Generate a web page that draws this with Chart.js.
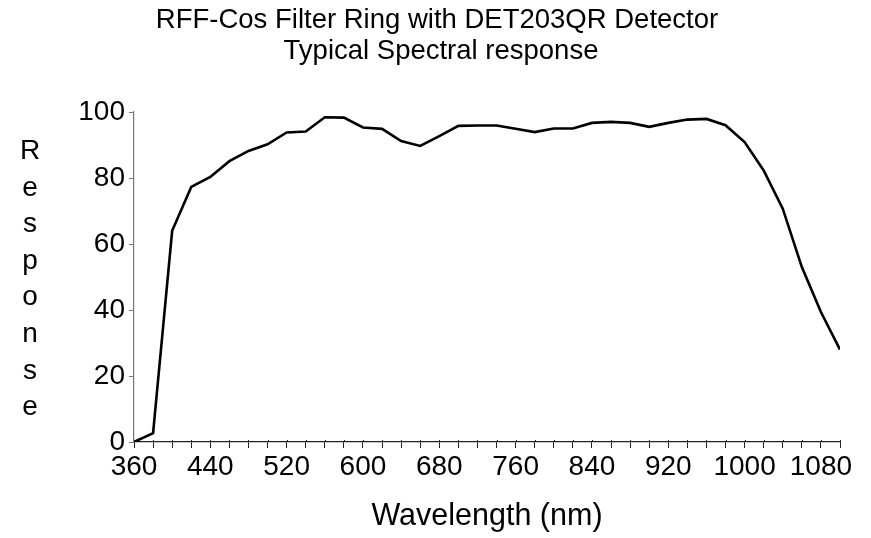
<!DOCTYPE html>
<html><head><meta charset="utf-8">
<script src="https://cdn.jsdelivr.net/npm/chart.js@4.4.1/dist/chart.umd.min.js"></script>
<style>html,body{margin:0;padding:0;background:#fff}#wrap{width:871px;height:538px}</style>
</head><body><div id="wrap"><canvas id="c" width="871" height="538"></canvas></div>
<script>
const titleLines = ["RFF-Cos Filter Ring with DET203QR Detector", "Typical Spectral response"];
const xAxisTitle = "Wavelength (nm)";
const yAxisTitle = "Response";
const wavelengths = [360,380,400,420,440,460,480,500,520,540,560,580,600,620,640,660,680,700,720,740,760,780,800,820,840,860,880,900,920,940,960,980,1000,1020,1040,1060,1080,1100];
const response = [0,2.7,64,77.3,80.3,85.1,88.2,90.2,93.8,94.1,98.4,98.3,95.3,94.9,91.2,89.7,92.7,95.8,95.9,95.9,94.9,93.9,95.0,95.0,96.7,97.0,96.7,95.5,96.7,97.7,97.9,96.0,90.9,82.3,70.7,53.0,39.4,28.0];
const yTicks = [0,20,40,60,80,100];
const xLabelTicks = [360,440,520,600,680,760,840,920,1000,1080];

const FONT = "'Liberation Sans', Arial, Helvetica, sans-serif";

const textPlugin = {
  id: 'texts',
  afterDraw(chart) {
    const ctx = chart.ctx;
    const ca = chart.chartArea;
    ctx.save();
    ctx.fillStyle = '#000';
    ctx.textAlign = 'center';
    ctx.textBaseline = 'alphabetic';
    ctx.font = '27.5px ' + FONT;
    ctx.fillText(titleLines[0], 437, 28);
    ctx.fillText(titleLines[1], 441, 59);
    ctx.font = '30.5px ' + FONT;
    ctx.fillText(xAxisTitle, (ca.left + ca.right) / 2, 525);
    ctx.font = '28px ' + FONT;
    const letters = Array.from(yAxisTitle);
    letters.forEach((ch, i) => {
      ctx.fillText(ch, 30, 159 + i * 36.6);
    });
    // small upward tick marks on x axis
    const xs = chart.scales.x;
    ctx.strokeStyle = '#222';
    ctx.lineWidth = 1;
    xs.ticks.forEach(t => {
      const px = Math.round(xs.getPixelForValue(t.value)) + 0.5;
      ctx.beginPath();
      ctx.moveTo(px, ca.bottom);
      ctx.lineTo(px, ca.bottom - 2);
      ctx.stroke();
    });
    ctx.restore();
  }
};

new Chart(document.getElementById('c'), {
  type: 'line',
  data: {
    datasets: [{
      data: wavelengths.map((w, i) => ({x: w, y: response[i]})),
      borderColor: '#000',
      borderWidth: 2.6,
      pointRadius: 0,
      tension: 0,
      fill: false
    }]
  },
  options: {
    responsive: false,
    animation: false,
    devicePixelRatio: 1,
    layout: { padding: { top: 112, left: 0, right: 31, bottom: 0 } },
    plugins: { legend: { display: false }, title: { display: false }, tooltip: { enabled: false } },
    scales: {
      x: {
        type: 'linear',
        min: 360, max: 1100,
        border: { color: '#222', width: 1.2 },
        grid: { drawOnChartArea: false, tickLength: 6, color: '#222' },
        ticks: {
          stepSize: 20, autoSkip: false, maxRotation: 0, padding: 2,
          color: '#000', font: { family: FONT, size: 28 },
          callback: v => xLabelTicks.includes(v) ? String(v) : ''
        },
        afterFit(s) { s.height = 96; s.paddingLeft = 0; s.paddingRight = 0; }
      },
      y: {
        min: 0, max: 100,
        border: { color: '#777', width: 1.2 },
        grid: { drawOnChartArea: false, tickLength: 5, color: '#777' },
        afterBuildTicks(s) { s.ticks = yTicks.map(v => ({value: v})); },
        ticks: { padding: 4, color: '#000', font: { family: FONT, size: 28 } },
        afterFit(s) { s.width = 134; s.paddingTop = 0; s.paddingBottom = 0; }
      }
    }
  },
  plugins: [textPlugin]
});
</script>
</body></html>
